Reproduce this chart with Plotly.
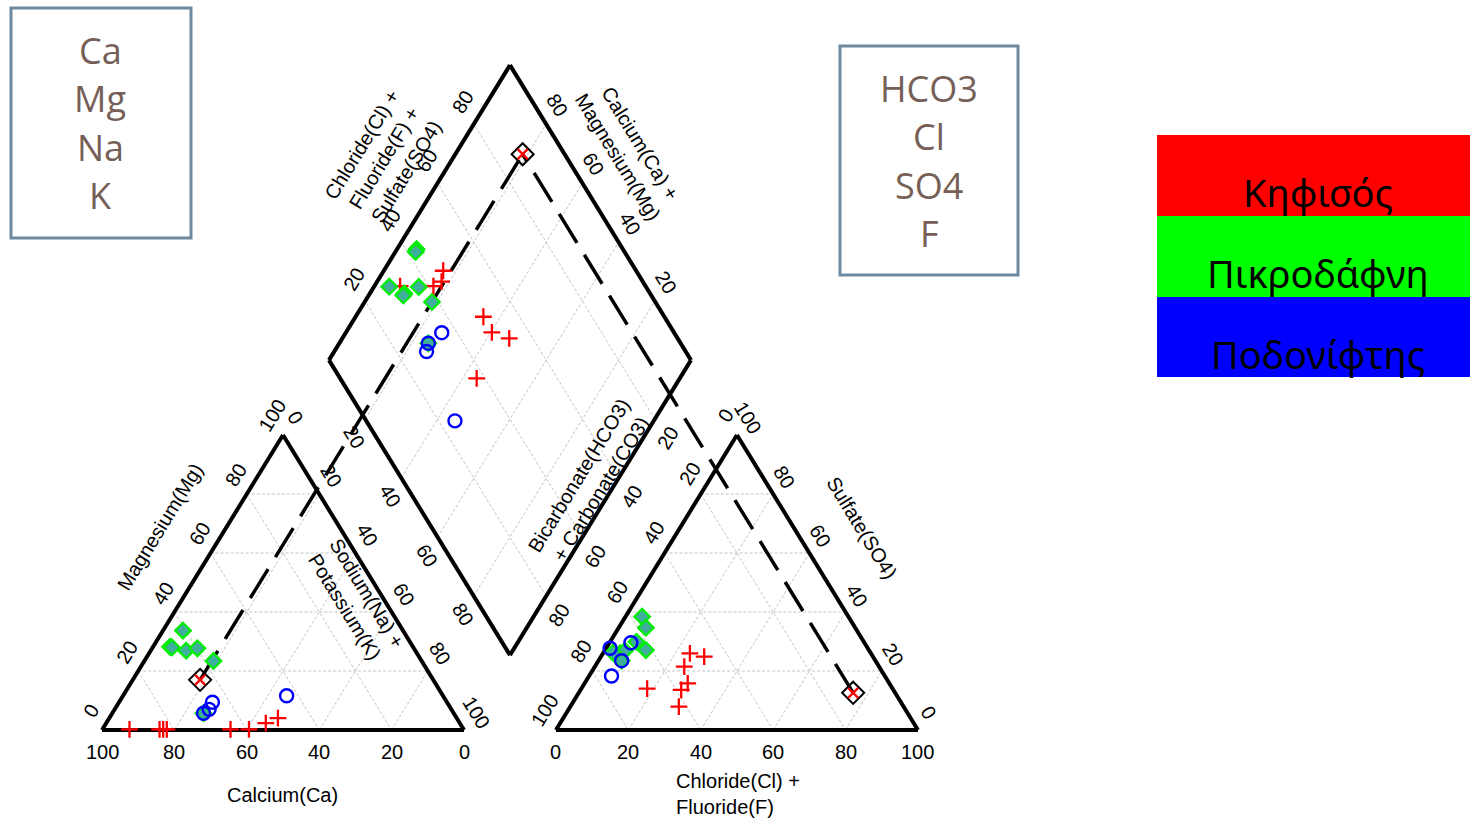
import math
import plotly.graph_objects as go

# ---------------- data (percent of meq) ----------------
GROUP_NAMES = ["Κηφισός", "Πικροδάφνη", "Ποδονίφτης"]
GROUP_COLORS = ["#ff0000", "#00ff00", "#0000ff"]

# Cation triangle: Ca, Mg, Na+K
kif_ca = [92.3, 84.0, 83.0, 82.0, 64.4, 59.3, 53.6, 49.4]
kif_mg = [0.2, 0.2, 0.2, 0.2, 0.2, 0.2, 2.3, 4.0]
kif_na = [7.5, 15.8, 16.8, 17.8, 35.4, 40.5, 44.1, 46.6]

pik_ca = [60.8, 67.1, 66.7, 63.3, 59.8, 57.5, 69.1]
pik_mg = [33.7, 28.2, 28.0, 26.9, 27.7, 23.4, 5.7]
pik_na = [5.5, 4.7, 5.3, 9.8, 12.5, 19.1, 25.2]

pod_ca = [64.8, 66.9, 69.1, 43.2]
pod_mg = [9.4, 7.0, 5.7, 11.6]
pod_na = [25.8, 26.1, 25.2, 45.2]

# Anion triangle: HCO3, Cl+F, SO4
kif_hco3 = [50.0, 46.6, 53.8, 55.7, 58.6, 67.8, 62.1]
kif_cl = [24.0, 28.5, 24.7, 28.5, 27.8, 18.2, 30.0]
kif_so4 = [26.0, 24.9, 21.5, 15.8, 13.6, 14.0, 7.9]

pik_hco3 = [57.0, 57.8, 62.8, 61.6, 69.3, 67.5, 71.1, 70.1]
pik_cl = [4.6, 7.5, 7.3, 11.3, 4.7, 5.6, 2.7, 6.4]
pik_so4 = [38.4, 34.7, 29.9, 27.1, 26.0, 26.9, 26.2, 23.5]

pod_hco3 = [71.2, 64.5, 70.1, 75.5]
pod_cl = [1.1, 5.9, 6.4, 6.2]
pod_so4 = [27.7, 29.6, 23.5, 18.3]

# Diamond: Ca+Mg, Cl+F+SO4
kif_camg = [83.6, 82.2, 83.7, 92.9, 64.7, 59.7, 53.9, 56.1]
kif_clso4 = [46.7, 44.4, 41.4, 32.2, 50.0, 49.7, 53.5, 37.7]

pik_camg = [94.6, 94.4, 95.8, 90.5, 90.4, 87.6, 81.4, 75.4]
pik_clso4 = [43.0, 42.3, 29.1, 32.1, 31.5, 37.2, 38.3, 30.3]

pod_camg = [73.5, 75.4, 74.5, 54.9]
pod_clso4 = [35.8, 30.3, 28.4, 24.5]

# highlighted sample (with projection lines)
hl_cation = [64.4, 17.0, 18.6]      # Ca, Mg, Na+K
hl_anion = [11.6, 75.8, 12.6]       # HCO3, Cl+F, SO4

TICKS = [0, 20, 40, 60, 80, 100]
DIAMOND_TICKS = [20, 40, 60, 80]

# ---------------- geometry ----------------
H = math.sqrt(3) / 2
GAP = 0.254
OX = 1 + GAP
BX, BY = 1 + GAP / 2, GAP / 2 * math.sqrt(3)

X0_PX, Y0_PX = 102.0, 730.0
SX, SY = 362.0, 340.6
FIG_W, FIG_H = 1470, 818


def px(xp, yp):
    return (xp - X0_PX) / SX, (Y0_PX - yp) / SY


def off(dxp, dyp):
    return dxp / SX, -dyp / SY


def cat_xy(mg, na):
    return (na + mg / 2) / 100, mg / 100 * H


def an_xy(cl, so4):
    return OX + (cl + so4 / 2) / 100, so4 / 100 * H


def dia_xy(u, v):
    return BX + (v - u) / 200, BY + (u + v) / 100 * H


fig = go.Figure()


def add_lines(segs, color, width, dash):
    xs, ys = [], []
    for (a, b) in segs:
        xs += [a[0], b[0], None]
        ys += [a[1], b[1], None]
    fig.add_trace(go.Scatter(x=xs, y=ys, mode="lines", hoverinfo="skip",
                             line=dict(color=color, width=width, dash=dash),
                             showlegend=False))


# grid lines
grid = []
for k in DIAMOND_TICKS:
    grid.append((cat_xy(k, 0), cat_xy(k, 100 - k)))
    grid.append((cat_xy(100 - k, 0), cat_xy(0, 100 - k)))
    grid.append((cat_xy(0, k), cat_xy(100 - k, k)))
    grid.append((an_xy(0, k), an_xy(100 - k, k)))
    grid.append((an_xy(k, 0), an_xy(k, 100 - k)))
    grid.append((an_xy(0, 100 - k), an_xy(100 - k, 0)))
    grid.append((dia_xy(k, 0), dia_xy(k, 100)))
    grid.append((dia_xy(0, k), dia_xy(100, k)))
add_lines(grid, "#c4c4c4", 1, "3px,2px")

# outlines
edges = [
    (cat_xy(0, 0), cat_xy(0, 100)), (cat_xy(0, 100), cat_xy(100, 0)), (cat_xy(100, 0), cat_xy(0, 0)),
    (an_xy(0, 0), an_xy(100, 0)), (an_xy(100, 0), an_xy(0, 100)), (an_xy(0, 100), an_xy(0, 0)),
    (dia_xy(0, 0), dia_xy(100, 0)), (dia_xy(100, 0), dia_xy(100, 100)),
    (dia_xy(100, 100), dia_xy(0, 100)), (dia_xy(0, 100), dia_xy(0, 0)),
]
add_lines(edges, "black", 4, "solid")

# projection lines of highlighted sample
hc = cat_xy(hl_cation[1], hl_cation[2])
ha = an_xy(hl_anion[1], hl_anion[2])
hd = dia_xy(100 - hl_cation[2], hl_anion[1] + hl_anion[2])
add_lines([(hc, hd), (ha, hd)], "black", 3.5, "34px,14px")


def marker_style(i):
    if i == 0:
        return dict(symbol="cross-thin", size=12, color="#ff0000",
                    line=dict(color="#ff0000", width=2.3))
    if i == 1:
        return dict(symbol="diamond", size=12, color="#3fae9c",
                    line=dict(color="#00ee00", width=2.2))
    return dict(symbol="circle-open", size=13, color="#0000ff",
                line=dict(color="#0000ff", width=2.4))


cat_sets = [(kif_mg, kif_na), (pik_mg, pik_na), (pod_mg, pod_na)]
an_sets = [(kif_cl, kif_so4), (pik_cl, pik_so4), (pod_cl, pod_so4)]
dia_sets = [(kif_camg, kif_clso4), (pik_camg, pik_clso4), (pod_camg, pod_clso4)]

for i in range(3):
    xs, ys = [], []
    for mg, na in zip(*cat_sets[i]):
        p = cat_xy(mg, na); xs.append(p[0]); ys.append(p[1])
    for cl, so4 in zip(*an_sets[i]):
        p = an_xy(cl, so4); xs.append(p[0]); ys.append(p[1])
    for u, v in zip(*dia_sets[i]):
        p = dia_xy(u, v); xs.append(p[0]); ys.append(p[1])
    fig.add_trace(go.Scatter(x=xs, y=ys, mode="markers", name=GROUP_NAMES[i],
                             marker=marker_style(i), showlegend=False,
                             hoverinfo="skip"))

# highlighted sample markers
hx = [hc[0], ha[0], hd[0]]
hy = [hc[1], ha[1], hd[1]]
fig.add_trace(go.Scatter(x=hx, y=hy, mode="markers", showlegend=False, hoverinfo="skip",
                         marker=dict(symbol="diamond-open", size=17, color="black",
                                     line=dict(color="black", width=2))))
fig.add_trace(go.Scatter(x=hx, y=hy, mode="markers", showlegend=False, hoverinfo="skip",
                         marker=dict(symbol="x-thin", size=10, color="#ff0000",
                                     line=dict(color="#ff0000", width=2.4))))

# ---------------- text ----------------
ann = []
TFONT = "Liberation Sans, Arial, sans-serif"


def label(x, y, text, angle=0, size=20, align="center", xanchor="center"):
    ann.append(dict(x=x, y=y, xref="x", yref="y", text=text, showarrow=False,
                    textangle=angle, xanchor=xanchor, yanchor="middle", align=align,
                    font=dict(family=TFONT, size=size, color="black")))


ANG = 58.5
for t in TICKS:
    o = off(0, 21.5)
    p = cat_xy(0, 100 - t); label(p[0] + o[0], p[1] + o[1], str(t))
    o = off(-11, -19)
    p = cat_xy(t, 0); label(p[0] + o[0], p[1] + o[1], str(t), -ANG)
    o = off(12, -18)
    p = cat_xy(100 - t, t); label(p[0] + o[0], p[1] + o[1], str(t), ANG)
    o = off(0, 21.5)
    p = an_xy(t, 0); label(p[0] + o[0], p[1] + o[1], str(t))
    o = off(11, -17)
    p = an_xy(100 - t, t); label(p[0] + o[0], p[1] + o[1], str(t), ANG)
    o = off(-11, -20)
    p = an_xy(0, 100 - t); label(p[0] + o[0], p[1] + o[1], str(t), -ANG)

for t in DIAMOND_TICKS:
    o = off(-11, -22)
    p = dia_xy(100, t); label(p[0] + o[0], p[1] + o[1], str(t), -ANG)
    o = off(11, -19)
    p = dia_xy(t, 100); label(p[0] + o[0], p[1] + o[1], str(t), ANG)
    o = off(-11, 18)
    p = dia_xy(100 - t, 0); label(p[0] + o[0], p[1] + o[1], str(t), ANG)
    o = off(13, 19)
    p = dia_xy(0, 100 - t); label(p[0] + o[0], p[1] + o[1], str(t), -ANG)

# axis titles
p = px(282, 795); label(p[0], p[1], "Calcium(Ca)")
p = px(160, 527); label(p[0], p[1], "Magnesium(Mg)", -ANG)
p = px(356, 600); label(p[0], p[1], "Sodium(Na) +<br>Potassium(K)", ANG)
p = px(674, 794); label(p[0], p[1], "Chloride(Cl) +<br>Fluoride(F)", 0, align="left", xanchor="left")
p = px(862, 528); label(p[0], p[1], "Sulfate(SO4)", ANG)
p = px(590, 482); label(p[0], p[1], "Bicarbonate(HCO3)<br>+ Carbonate(CO3)", -ANG)
p = px(384, 158); label(p[0], p[1], "Chloride(Cl) +<br>Fluoride(F) +<br>Sulfate(SO4)", -ANG)
p = px(629, 150); label(p[0], p[1], "Calcium(Ca) +<br>Magnesium(Mg)", ANG)

# ---------------- boxes & legend ----------------
shapes = []
BOX_LINE = "#6d8aa0"
TXT_COL = "#765f57"
BOX_FONT = "Open Sans, Lato, sans-serif"


def rect_px(x0, y0, x1, y1, fill=None, line=None, lw=0):
    a = px(x0, y0); b = px(x1, y1)
    shapes.append(dict(type="rect", xref="x", yref="y", x0=a[0], y0=b[1], x1=b[0], y1=a[1],
                       fillcolor=fill if fill else "rgba(0,0,0,0)",
                       line=dict(color=line if line else "rgba(0,0,0,0)", width=lw),
                       layer="below"))


rect_px(11, 8, 191, 238, line=BOX_LINE, lw=3)
rect_px(840, 46, 1018, 275, line=BOX_LINE, lw=3)

cation_box = ["Ca", "Mg", "Na", "K"]
anion_box = ["HCO3", "Cl", "SO4", "F"]
for j, t in enumerate(cation_box):
    p = px(100, 50 + 48.5 * j)
    ann.append(dict(x=p[0], y=p[1], xref="x", yref="y", text=t, showarrow=False,
                    xanchor="center", yanchor="middle",
                    font=dict(family=BOX_FONT, size=36, color=TXT_COL)))
for j, t in enumerate(anion_box):
    p = px(929, 88 + 48.5 * j)
    ann.append(dict(x=p[0], y=p[1], xref="x", yref="y", text=t, showarrow=False,
                    xanchor="center", yanchor="middle",
                    font=dict(family=BOX_FONT, size=36, color=TXT_COL)))

band_top = [135, 216, 297]
band_bot = [216, 297, 377]
for i in range(3):
    rect_px(1157, band_top[i], 1472, band_bot[i], fill=GROUP_COLORS[i])
    p = px(1318, band_top[i] + 57)
    ann.append(dict(x=p[0], y=p[1], xref="x", yref="y", text=GROUP_NAMES[i], showarrow=False,
                    xanchor="center", yanchor="middle",
                    font=dict(family="Noto Sans, DejaVu Sans, sans-serif", size=38, color="black")))

xr0, _ = px(0, 0)
xr1, _ = px(FIG_W, 0)
_, yr1 = px(0, 0)
_, yr0 = px(0, FIG_H)

fig.update_layout(
    width=FIG_W, height=FIG_H,
    margin=dict(l=0, r=0, t=0, b=0),
    paper_bgcolor="white", plot_bgcolor="white",
    xaxis=dict(range=[xr0, xr1], visible=False, fixedrange=True),
    yaxis=dict(range=[yr0, yr1], visible=False, fixedrange=True),
    shapes=shapes, annotations=ann, showlegend=False,
)

fig.write_html("out.html", config={"displayModeBar": False},
               post_script="document.body.style.margin='0';document.body.style.overflow='hidden';")
